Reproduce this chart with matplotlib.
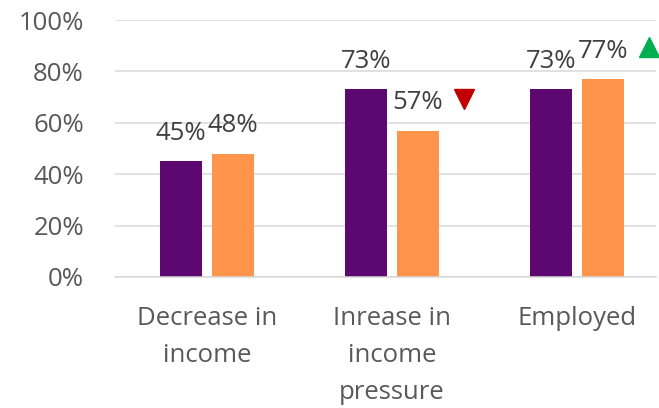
import numpy as np
import matplotlib.pyplot as plt
import matplotlib.transforms as mtransforms

# data
categories = ["Decrease in\nincome", "Inrease in\nincome\npressure", "Employed"]
series_a = [0.45, 0.73, 0.73]
series_b = [0.48, 0.57, 0.77]
trend = [None, "down", "up"]

PURPLE = "#5C0870"
ORANGE = "#FF944D"
GRID = "#D9D9D9"
TICK = "#595959"
LABEL = "#404040"

plt.rcParams["font.family"] = ["Open Sans", "DejaVu Sans"]

fig = plt.figure(figsize=(6.59, 4.08), dpi=100)
ax = fig.add_axes([114.5 / 659, (408 - 277) / 408, (656 - 114.5) / 659, 257 / 408])

x = np.arange(len(categories))
w = 0.227
off = 0.1405

bars_a = ax.bar(x - off, series_a, w, color=PURPLE, zorder=2)
bars_b = ax.bar(x + off, series_b, w, color=ORANGE, zorder=2)

for bars, vals in [(bars_a, series_a), (bars_b, series_b)]:
    for b, v in zip(bars, vals):
        ax.annotate(f"{v:.0%}", (b.get_x() + b.get_width() / 2, v),
                    xytext=(0, 20), textcoords="offset points",
                    ha="center", va="center", fontsize=18.5, color=LABEL)

# trend markers beside the second series
mark_tr = mtransforms.offset_copy(ax.transData, fig=fig, x=33, y=23, units="points")
for xi, v, t in zip(x, series_b, trend):
    if t == "down":
        ax.plot(xi + off, v, marker="v", markersize=14, color="#C00000",
                transform=mark_tr, clip_on=False, zorder=3)
    elif t == "up":
        ax.plot(xi + off, v, marker="^", markersize=14, color="#00B050",
                transform=mark_tr, clip_on=False, zorder=3)

ax.set_xlim(-0.5, (656 - 207) / 185)
ax.set_ylim(0, 1.0)
ax.set_yticks(np.arange(0, 1.01, 0.2))
ax.set_yticklabels([f"{t:.0%}" for t in np.arange(0, 1.01, 0.2)])
ax.set_xticks(x)
ax.set_xticklabels(categories, linespacing=1.62)

ax.yaxis.grid(True, color=GRID, linewidth=1.1, zorder=0)
ax.set_axisbelow(True)
for s in ["top", "right", "left"]:
    ax.spines[s].set_visible(False)
ax.spines["bottom"].set_color(GRID)
ax.spines["bottom"].set_linewidth(1.1)

ax.tick_params(axis="y", length=0, pad=22, labelsize=18.5, labelcolor=TICK)
ax.tick_params(axis="x", length=0, pad=21, labelsize=18.5, labelcolor=TICK)

fig.savefig("out.png", dpi=100)
